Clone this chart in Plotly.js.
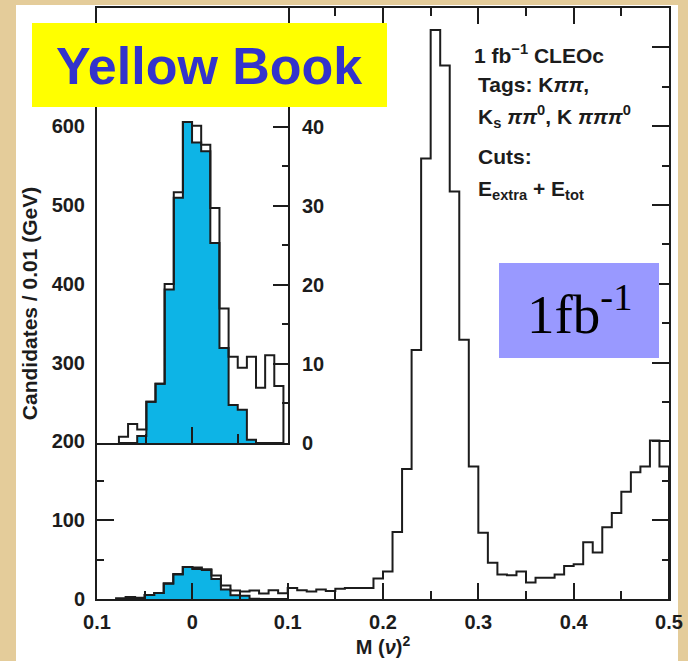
<!DOCTYPE html>
<html>
<head>
<meta charset="utf-8">
<script src="https://cdn.plot.ly/plotly-3.0.1.min.js"></script>
<style>
html,body{margin:0;padding:0;background:#E4CC9A;}
#chart{width:688px;height:661px;}
</style>
</head>
<body>
<div id="chart"></div>
<script>
// ---- data (bin left edges of M(nu)^2, width 0.01 GeV) ----
const binLeft = [-0.08,-0.07,-0.06,-0.05,-0.04,-0.03,-0.02,-0.01,0.00,0.01,
  0.02,0.03,0.04,0.05,0.06,0.07,0.08,0.09,0.10,0.11,
  0.12,0.13,0.14,0.15,0.16,0.17,0.18,0.19,0.20,0.21,
  0.22,0.23,0.24,0.25,0.26,0.27,0.28,0.29,0.30,0.31,
  0.32,0.33,0.34,0.35,0.36,0.37,0.38,0.39,0.40,0.41,
  0.42,0.43,0.44,0.45,0.46,0.47,0.48,0.49];
const binWidth = 0.01;
// all candidates
const totalCounts = [0.8,2.4,1.7,5.2,7.5,20.1,31.7,40.6,40.1,37.7,
  29.7,17.0,10.9,9.5,10.9,7.0,11.1,7.2,14,11,
  9.5,12,10,13,14,14,14,26,35,85,
  165,316,559,722,677,517,329,168,84,46,
  31,30,35,21,27,27,31,42,44,72,
  59,91,109,136,161,168,201,168];
// signal (shaded) candidates, bins -0.08 ... 0.09
const signalLeft = [-0.08,-0.07,-0.06,-0.05,-0.04,-0.03,-0.02,-0.01,0.00,0.01,
  0.02,0.03,0.04,0.05,0.06,0.07,0.08,0.09];
const signalCounts = [0,0,0.9,5.2,7.5,19.4,31.0,40.6,38.0,36.9,
  25.3,12.0,4.8,4.2,0.4,0,0,0];
// inset shows the region -0.08 ... 0.10
const insetLeft = signalLeft;
const insetTotal = totalCounts.slice(0, 18);

const xTickVals = [-0.1,0,0.1,0.2,0.3,0.4,0.5];
const xTickText = ['0.1','0','0.1','0.2','0.3','0.4','0.5'];
const yTickVals = [0,100,200,300,400,500,600,700];
const yTickText = ['0','100','200','300','400','500','600',''];
const insetTickVals = [0,10,20,30,40,50];
const insetTickText = ['0','10','20','30','40',''];

const FONT = 'Liberation Sans, Arial, Helvetica, sans-serif';
const INK = '#1c1c1c';
const CYAN = '#0DB4E6';

function stepPath(lefts, counts, w){
  const n = counts.length;
  const x = [lefts[0]], y = [0];
  for (let i=0;i<n;i++){ x.push(lefts[i]); y.push(counts[i]); }
  x.push(lefts[n-1]+w); y.push(counts[n-1]);
  x.push(lefts[n-1]+w); y.push(0);
  return {x, y};
}

const mSig = stepPath(signalLeft, signalCounts, binWidth);
const mTot = stepPath(binLeft, totalCounts, binWidth);
const iSig = stepPath(insetLeft, signalCounts, binWidth);
const iTot = stepPath(insetLeft, insetTotal, binWidth);

const traces = [
  {x:mSig.x, y:mSig.y, type:'scatter', mode:'lines', line:{shape:'hv', color:INK, width:2}, fill:'tozeroy', fillcolor:CYAN, xaxis:'x', yaxis:'y', hoverinfo:'skip'},
  {x:mTot.x, y:mTot.y, type:'scatter', mode:'lines', line:{shape:'hv', color:INK, width:2}, xaxis:'x', yaxis:'y', hoverinfo:'skip'},
  {x:iSig.x, y:iSig.y, type:'scatter', mode:'lines', line:{shape:'hv', color:INK, width:2}, fill:'tozeroy', fillcolor:CYAN, xaxis:'x2', yaxis:'y2', hoverinfo:'skip'},
  {x:iTot.x, y:iTot.y, type:'scatter', mode:'lines', line:{shape:'hv', color:INK, width:2}, xaxis:'x2', yaxis:'y2', hoverinfo:'skip'}
];

const L=97, R=669, T=8, B=599;
const X = px => (px-L)/(R-L);
const Y = py => (B-py)/(B-T);

const axCommon = {showgrid:false, zeroline:false, showline:true, linewidth:2, linecolor:INK,
  tickwidth:2, tickcolor:INK, ticks:'inside', tickfont:{family:FONT, size:20, color:INK, weight:'bold'}};

const annFont = {family:FONT, size:21, color:INK, weight:'bold'};

const layout = {
  width:688, height:661,
  margin:{l:L, r:688-R, t:T, b:661-B, pad:0},
  paper_bgcolor:'#E4CC9A', plot_bgcolor:'#FFFFFF',
  showlegend:false,
  font:{family:FONT, color:INK, size:20},
  xaxis: Object.assign({}, axCommon, {
    domain:[0,1], anchor:'y', range:[-0.1,0.5], tickmode:'array', tickvals:xTickVals, ticktext:xTickText,
    ticklen:16, mirror:'ticks', ticklabelstandoff:4,
    minor:{tickmode:'linear', tick0:0.05, dtick:0.1, ticks:'inside', ticklen:8, tickwidth:2, tickcolor:INK},
    title:{text:'M (<i>ν</i>)<sup>2</sup>', font:{family:FONT, size:20, color:INK, weight:'bold'}, standoff:6}
  }),
  yaxis: Object.assign({}, axCommon, {
    domain:[0,1], anchor:'x', range:[0,750], tickmode:'array', tickvals:yTickVals, ticktext:yTickText,
    ticklen:17, mirror:'ticks', ticklabelstandoff:6,
    minor:{tickmode:'linear', tick0:50, dtick:100, ticks:'inside', ticklen:7, tickwidth:2, tickcolor:INK},
    title:{text:'Candidates / 0.01 (GeV)', font:{family:FONT, size:21, color:INK, weight:'bold'}, standoff:8}
  }),
  xaxis2: Object.assign({}, axCommon, {
    domain:[0, X(288)], anchor:'y2', range:[-0.104,0.105], tickmode:'array', tickvals:[0],
    showticklabels:false, ticklen:16,
    minor:{tickmode:'array', tickvals:[-0.05,0.05], ticks:'inside', ticklen:9, tickwidth:2, tickcolor:INK}
  }),
  yaxis2: Object.assign({}, axCommon, {
    domain:[Y(443),1], anchor:'x2', side:'right', range:[0,55], tickmode:'array', tickvals:insetTickVals, ticktext:insetTickText,
    ticklen:15, ticklabelstandoff:8,
    minor:{tickmode:'linear', tick0:5, dtick:10, ticks:'inside', ticklen:6, tickwidth:2, tickcolor:INK}
  }),
  shapes:[
    {type:'rect', xref:'paper', yref:'paper', x0:X(16), x1:X(678), y0:Y(661), y1:Y(5), fillcolor:'#FFFFFF', line:{width:0}, layer:'below'},
    {type:'rect', xref:'paper', yref:'paper', x0:X(32), x1:X(387), y0:Y(107), y1:Y(23), fillcolor:'#FFFF00', line:{width:0}, layer:'above'},
    {type:'rect', xref:'paper', yref:'paper', x0:X(499), x1:X(659), y0:Y(358), y1:Y(263), fillcolor:'#9999FF', line:{width:0}, layer:'above'}
  ],
  annotations:[
    {xref:'paper', yref:'paper', x:X(209), y:Y(66), xanchor:'center', yanchor:'middle', showarrow:false,
      text:'Yellow Book', font:{family:FONT, size:52, color:'#3333CC', weight:'bold'}},
    {xref:'paper', yref:'paper', x:X(579), y:Y(310), xanchor:'center', yanchor:'middle', showarrow:false,
      text:'1fb<sup>-1</sup>', font:{family:'Liberation Serif, Times New Roman, serif', size:55, color:'#000000'}},
    {xref:'paper', yref:'paper', x:X(472), y:Y(54), xanchor:'left', yanchor:'middle', showarrow:false,
      text:'1 fb<sup>−1</sup> CLEOc', font:annFont},
    {xref:'paper', yref:'paper', x:X(476), y:Y(84), xanchor:'left', yanchor:'middle', showarrow:false,
      text:'Tags: K<i>ππ</i>,', font:annFont},
    {xref:'paper', yref:'paper', x:X(476), y:Y(117), xanchor:'left', yanchor:'middle', showarrow:false,
      text:'K<sub>s</sub> <i>ππ</i><sup>0</sup>, K <i>πππ</i><sup>0</sup>', font:annFont},
    {xref:'paper', yref:'paper', x:X(476), y:Y(156), xanchor:'left', yanchor:'middle', showarrow:false,
      text:'Cuts:', font:annFont},
    {xref:'paper', yref:'paper', x:X(476), y:Y(190), xanchor:'left', yanchor:'middle', showarrow:false,
      text:'E<sub>extra</sub> + E<sub>tot</sub>', font:annFont}
  ]
};

Plotly.newPlot('chart', traces, layout, {displayModeBar:false, staticPlot:true});
</script>
</body>
</html>
